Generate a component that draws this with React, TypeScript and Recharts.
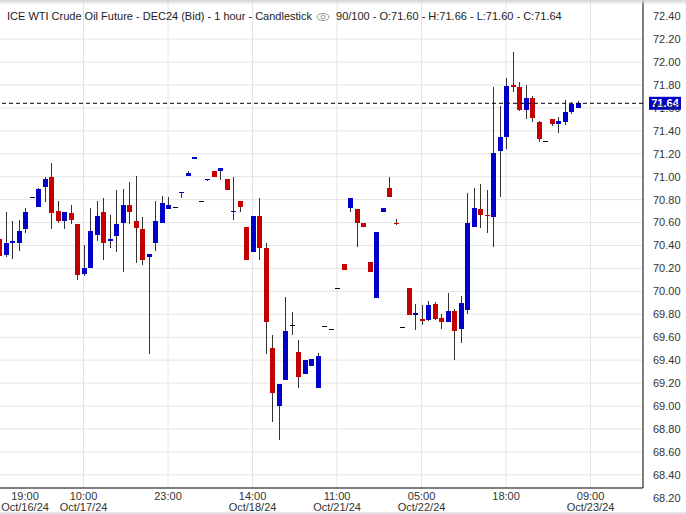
import React from 'react';
import { ComposedChart, Bar, XAxis, YAxis, CartesianGrid, ReferenceLine } from 'recharts';

// hourly candles, oldest first (90 of 100 slots)
const opens = [
  70.46, 70.32, 70.42, 70.42, 70.54, 70.82, 70.74, 70.91, 71.0, 70.7,
  70.61, 70.68, 70.59, 70.15, 70.2, 70.49, 70.69, 70.44, 70.48, 70.6,
  70.75, 70.61, 70.54, 70.3, 70.42, 70.6, 70.72, 70.74, 70.86, 71.01,
  71.15, 70.79, 70.97, 71.05, 71.05, 70.98, 70.69, 70.79, 70.56, 70.34,
  70.66, 70.38, 69.51, 69.0, 69.23, 69.71, 69.47, 69.28, 69.35, 69.16,
  69.7, 69.67, 70.03, 70.24, 70.73, 70.72, 70.6, 70.26, 69.94, 70.69,
  70.9, 70.6, 69.69, 70.03, 69.79, 69.76, 69.75, 69.89, 69.77, 69.73,
  69.83, 69.67, 69.84, 70.56, 70.72, 70.67, 70.65, 71.22, 71.35, 71.8,
  71.78, 71.58, 71.69, 71.48, 71.31, 71.5, 71.46, 71.48, 71.56, 71.6,
];
const highs = [
  70.46, 70.69, 70.61, 70.62, 70.73, 70.82, 70.9, 71.0, 71.12, 70.79,
  70.69, 70.75, 70.59, 70.4, 70.73, 70.79, 70.81, 70.67, 70.88, 70.89,
  70.95, 71.01, 70.65, 70.33, 70.79, 70.83, 70.82, 70.74, 70.87, 71.05,
  71.17, 70.79, 70.98, 71.05, 71.08, 70.98, 71.0, 70.79, 70.56, 70.66,
  70.81, 70.42, 69.62, 69.19, 69.95, 69.82, 69.58, 69.4, 69.41, 69.46,
  69.7, 69.67, 70.03, 70.24, 70.81, 70.72, 70.6, 70.26, 70.52, 70.73,
  71.0, 70.63, 69.69, 70.03, 69.89, 69.88, 69.92, 69.91, 69.8, 69.99,
  69.85, 69.96, 70.86, 70.9, 70.94, 70.88, 71.78, 71.62, 71.86, 72.09,
  71.83, 71.8, 71.7, 71.49, 71.31, 71.5, 71.52, 71.67, 71.65, 71.66,
];
const lows = [
  70.31, 70.3, 70.28, 70.35, 70.51, 70.82, 70.74, 70.78, 70.54, 70.6,
  70.54, 70.59, 70.1, 70.13, 70.2, 70.44, 70.27, 70.38, 70.34, 70.17,
  70.59, 70.25, 70.23, 69.45, 70.35, 70.6, 70.72, 70.74, 70.81, 71.01,
  71.15, 70.79, 70.96, 71.0, 70.97, 70.88, 70.62, 70.69, 70.27, 70.34,
  70.27, 69.45, 68.86, 68.7, 69.23, 69.62, 69.16, 69.28, 69.35, 69.16,
  69.7, 69.67, 70.03, 70.19, 70.69, 70.39, 70.56, 70.17, 69.94, 70.69,
  70.82, 70.58, 69.69, 69.79, 69.66, 69.71, 69.74, 69.75, 69.67, 69.73,
  69.4, 69.55, 69.8, 70.56, 70.55, 70.51, 70.39, 70.82, 71.24, 71.74,
  71.57, 71.5, 71.48, 71.3, 71.31, 71.44, 71.38, 71.45, 71.55, 71.6,
];
const closes = [
  70.31, 70.42, 70.44, 70.53, 70.69, 70.82, 70.89, 70.98, 70.68, 70.61,
  70.69, 70.62, 70.14, 70.2, 70.53, 70.66, 70.42, 70.46, 70.59, 70.75,
  70.69, 70.55, 70.27, 70.33, 70.61, 70.77, 70.75, 70.74, 70.87, 71.03,
  71.17, 70.79, 70.98, 71.0, 71.08, 70.88, 70.7, 70.74, 70.27, 70.66,
  70.38, 69.73, 69.11, 69.19, 69.65, 69.71, 69.25, 69.4, 69.41, 69.44,
  69.7, 69.67, 70.03, 70.19, 70.81, 70.6, 70.56, 70.17, 70.52, 70.73,
  70.82, 70.59, 69.69, 69.79, 69.81, 69.74, 69.88, 69.76, 69.73, 69.83,
  69.65, 69.9, 70.6, 70.73, 70.67, 70.66, 71.21, 71.35, 71.79, 71.78,
  71.58, 71.69, 71.51, 71.33, 71.31, 71.46, 71.49, 71.56, 71.63, 71.64,
];

const tickIndex = [4, 13, 26, 39, 52, 65, 78, 91];
const tickTime = ['19:00', '10:00', '23:00', '14:00', '11:00', '05:00', '18:00', '09:00'];
const tickDate = ['Oct/16/24', 'Oct/17/24', '', 'Oct/18/24', 'Oct/21/24', 'Oct/22/24', '', 'Oct/23/24'];
const gridIndex = [13, 26, 39, 52, 65, 78, 91];

const priceTicks = [
  68.2, 68.4, 68.6, 68.8, 69.0, 69.2, 69.4, 69.6, 69.8, 70.0, 70.2,
  70.4, 70.6, 70.8, 71.0, 71.2, 71.4, 71.6, 71.8, 72.0, 72.2, 72.4,
];
const gridPrices = priceTicks.filter((p) => p > 68.3 && p < 72.3);
const lastPrice = 71.64;

const Y_MIN = 68.285;
const Y_MAX = 72.541;

const FONT = 'Arial, "Liberation Sans", sans-serif';
const UP = '#0000c8';
const DOWN = '#c40000';
const WICK = '#333333';

const data = opens.map((o, i) => ({
  idx: i,
  open: o,
  high: highs[i],
  low: lows[i],
  close: closes[i],
}));

const Candle = (props: any) => {
  const { x, y, width, height, payload } = props;
  if (x == null || !payload) return null;
  const { open, close, high, low } = payload;
  const ppu = height / (high - Y_MIN);
  const py = (v: number) => y + (high - v) * ppu;
  const cx = Math.round(x + width / 2);

  // flat hour: single dash
  if (high === low) {
    return <rect x={cx - 2} y={Math.round(py(close))} width={5} height={1} fill="#000" />;
  }

  const color = close > open ? UP : close < open ? DOWN : '#000';
  const top = Math.round(py(Math.max(open, close)));
  const bot = Math.round(py(Math.min(open, close)));
  return (
    <g>
      <line x1={cx + 0.5} x2={cx + 0.5} y1={Math.round(py(high))} y2={Math.round(py(low))} stroke={WICK} strokeWidth={1} />
      <rect x={cx - 2} y={top} width={5} height={Math.max(1, bot - top)} fill={color} />
    </g>
  );
};

const XTick = (props: any) => {
  const { x, y, payload } = props;
  const i = tickIndex.indexOf(payload.value);
  return (
    <text x={x} y={y} textAnchor="middle" fill="#333" fontSize={11} fontFamily={FONT}>
      <tspan x={x} dy={12}>{tickTime[i]}</tspan>
      {tickDate[i] ? <tspan x={x} dy={11}>{tickDate[i]}</tspan> : null}
    </text>
  );
};

const PriceTag = (props: any) => {
  const vb = props.viewBox;
  if (!vb) return null;
  const bx = vb.x + vb.width + 6;
  const by = vb.y;
  return (
    <g>
      <rect x={bx} y={by - 6.5} width={32} height={13} fill={UP} />
      <text x={bx + 16} y={by + 4} textAnchor="middle" fill="#fff" fontSize={11} fontWeight="bold" fontFamily={FONT}>
        {lastPrice.toFixed(2)}
      </text>
    </g>
  );
};

const Eye = () => (
  <svg width="14" height="10" viewBox="0 0 14 10" style={{ verticalAlign: 'middle', margin: '0 6px 0 4px' }}>
    <ellipse cx="7" cy="5" rx="6" ry="3.5" fill="none" stroke="#999" strokeWidth="1" />
    <circle cx="7" cy="5" r="2" fill="none" stroke="#999" strokeWidth="1" />
  </svg>
);

export default function App() {
  return (
    <div style={{ position: 'absolute', left: 0, top: 0, width: 686, height: 514, background: '#fff', overflow: 'hidden' }}>
      <ComposedChart width={686} height={514} data={data} margin={{ top: 0, right: 0, bottom: 0, left: 0 }}>
        <CartesianGrid stroke="#e4e4e4" horizontalValues={gridPrices} verticalValues={gridIndex} />
        <XAxis
          dataKey="idx"
          type="number"
          domain={[0.15, 99.07]}
          allowDataOverflow
          ticks={tickIndex}
          interval={0}
          height={26}
          tickLine={false}
          tickSize={0}
          tickMargin={0}
          axisLine={{ stroke: '#000' }}
          tick={<XTick />}
        />
        <YAxis
          orientation="right"
          domain={[Y_MIN, Y_MAX]}
          allowDataOverflow
          ticks={priceTicks}
          interval={0}
          width={43}
          tickLine={false}
          tickSize={6}
          tickMargin={4}
          axisLine={{ stroke: '#000' }}
          tickFormatter={(v: number) => v.toFixed(2)}
          tick={{ fill: '#333', fontSize: 11, fontFamily: FONT, textAnchor: 'start' }}
        />
        <Bar dataKey={(d: any) => [Y_MIN, d.high]} barSize={5} shape={<Candle />} isAnimationActive={false} />
        <ReferenceLine y={lastPrice} stroke="#000" strokeDasharray="4 3" label={<PriceTag />} ifOverflow="visible" />
      </ComposedChart>
      <div
        style={{
          position: 'absolute', left: 7, top: 9, fontFamily: FONT, fontSize: 11, color: '#222',
          whiteSpace: 'nowrap', lineHeight: '14px', pointerEvents: 'none',
        }}
      >
        ICE WTI Crude Oil Future - DEC24 (Bid) - 1 hour - Candlestick
        <Eye />
        90/100 - O:71.60 - H:71.66 - L:71.60 - C:71.64
      </div>
      <div style={{ position: 'absolute', left: 0, top: 0, width: 686, height: 5, background: 'linear-gradient(#d4d4d4, rgba(255,255,255,0))', pointerEvents: 'none' }} />
      <div style={{ position: 'absolute', left: 0, bottom: 0, width: 686, height: 2, background: '#e6e6e6', pointerEvents: 'none' }} />
    </div>
  );
}
